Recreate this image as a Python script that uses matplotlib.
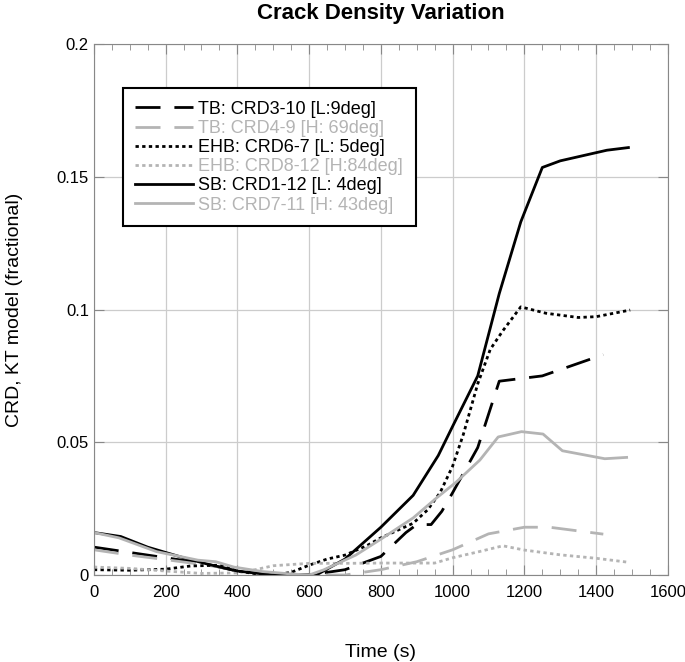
import matplotlib
matplotlib.use("Agg")
import matplotlib.pyplot as plt
from matplotlib.ticker import MultipleLocator

plt.rcParams["font.family"] = ["Liberation Sans", "DejaVu Sans"]

# TB: CRD3-10 (black dashed)
tb_low_t = [0, 100, 200, 300, 400, 500, 600, 700, 800, 870, 900, 940, 970, 1000, 1070, 1130, 1250, 1420]
tb_low_v = [0.0105, 0.0085, 0.0065, 0.0045, 0.0015, 0.0003, 0.0, 0.002, 0.007, 0.016, 0.019, 0.019,
            0.024, 0.031, 0.048, 0.073, 0.075, 0.083]
# TB: CRD4-9 (gray dashed)
tb_high_t = [0, 100, 200, 300, 400, 500, 600, 700, 800, 900, 1000, 1100, 1200, 1270, 1420]
tb_high_v = [0.0095, 0.0075, 0.0058, 0.004, 0.002, 0.0005, 0.0, 0.0, 0.002, 0.005, 0.0095, 0.0155,
             0.018, 0.018, 0.0154]
# EHB: CRD6-7 (black dotted)
ehb_low_t = [0, 100, 200, 270, 350, 400, 450, 500, 550, 600, 650, 700, 760, 800, 890, 930, 965, 1000,
             1030, 1070, 1105, 1140, 1190, 1260, 1350, 1400, 1495]
ehb_low_v = [0.002, 0.0018, 0.0022, 0.0034, 0.0037, 0.0015, 0.0005, 0.0, 0.001, 0.0037, 0.006, 0.0075,
             0.011, 0.014, 0.0195, 0.0245, 0.031, 0.041, 0.053, 0.072, 0.085, 0.092, 0.101, 0.0986,
             0.097, 0.0973, 0.0998]
# EHB: CRD8-12 (gray dotted)
ehb_high_t = [0, 100, 200, 300, 400, 450, 500, 600, 700, 800, 950, 1000, 1080, 1140, 1200, 1300, 1400, 1490]
ehb_high_v = [0.003, 0.0025, 0.0015, 0.0006, 0.0008, 0.002, 0.0035, 0.0044, 0.0044, 0.0045, 0.0045,
              0.0065, 0.009, 0.011, 0.0094, 0.0076, 0.0063, 0.0048]
# SB: CRD1-12 (black solid)
sb_low_t = [0, 75, 150, 250, 320, 400, 500, 620, 700, 800, 890, 960, 1000, 1070, 1130, 1190, 1250,
            1300, 1430, 1490]
sb_low_v = [0.016, 0.0145, 0.0105, 0.0065, 0.004, 0.0015, 0.0, 0.0, 0.006, 0.018, 0.030, 0.045, 0.056,
            0.075, 0.106, 0.133, 0.1535, 0.156, 0.160, 0.161]
# SB: CRD7-11 (gray solid)
sb_high_t = [0, 70, 175, 290, 340, 390, 470, 550, 600, 640, 730, 800, 890, 955, 1010, 1076, 1127, 1192,
             1252, 1306, 1424, 1485]
sb_high_v = [0.016, 0.014, 0.0088, 0.0056, 0.005, 0.003, 0.0013, 0.0004, 0.0, 0.0019, 0.0075, 0.0135,
             0.0215, 0.029, 0.035, 0.0433, 0.052, 0.054, 0.0531, 0.0468, 0.0438, 0.0443]

gray = "#b4b4b4"

fig = plt.figure(figsize=(6.85, 6.62), dpi=100)
ax = fig.add_axes([0.137, 0.1314, 0.838, 0.8021])

ax.plot(tb_low_t, tb_low_v, color="black", lw=2, dashes=(9, 5), label="TB: CRD3-10 [L:9deg]")
ax.plot(tb_high_t, tb_high_v, color=gray, lw=2, dashes=(9, 5), label="TB: CRD4-9 [H: 69deg]")
ax.plot(ehb_low_t, ehb_low_v, color="black", lw=2, dashes=(1.2, 1.2), label="EHB: CRD6-7 [L: 5deg]")
ax.plot(ehb_high_t, ehb_high_v, color=gray, lw=2, dashes=(1.2, 1.2), label="EHB: CRD8-12 [H:84deg]")
ax.plot(sb_low_t, sb_low_v, color="black", lw=2, label="SB: CRD1-12 [L: 4deg]")
ax.plot(sb_high_t, sb_high_v, color=gray, lw=2, label="SB: CRD7-11 [H: 43deg]")

ax.set_xlim(0, 1600)
ax.set_ylim(0, 0.2)
ax.xaxis.set_major_locator(MultipleLocator(200))
ax.xaxis.set_minor_locator(MultipleLocator(50))
ax.set_yticks([0, 0.05, 0.1, 0.15, 0.2])
ax.set_yticklabels(["0", "0.05", "0.1", "0.15", "0.2"])
ax.tick_params(which="both", direction="in", top=True, right=True, labelsize=12, color="#888888")
ax.tick_params(which="major", length=7)
ax.tick_params(which="minor", length=4)
ax.tick_params(axis="x", pad=7)
ax.grid(True, color="#cccccc", lw=0.9)
for s in ax.spines.values():
    s.set_color("#888888")

ax.set_xlabel("Time (s)", fontsize=14, labelpad=32)
ax.set_ylabel("CRD, KT model (fractional)", fontsize=14, labelpad=24)
ax.set_title("Crack Density Variation", fontsize=16, fontweight="bold", pad=18)

leg = ax.legend(loc="upper left", bbox_to_anchor=(0.05, 0.917), fontsize=13, handlelength=3.2,
                handletextpad=0.3, labelspacing=0.12, borderpad=0.7, borderaxespad=0,
                fancybox=False, framealpha=1)
leg.get_frame().set_edgecolor("black")
leg.get_frame().set_linewidth(1.5)
for txt, line in zip(leg.get_texts(), leg.get_lines()):
    txt.set_color(line.get_color())

fig.savefig("out.png", dpi=100)
